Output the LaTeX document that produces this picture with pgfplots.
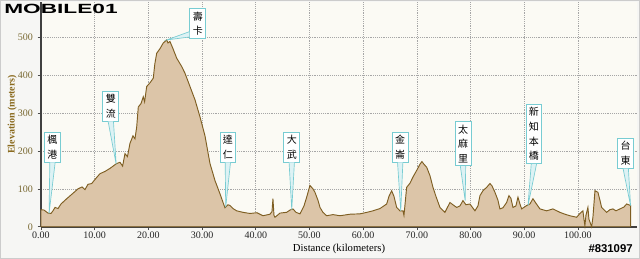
\documentclass[border=0pt]{standalone}
\usepackage{pgfplots}
\pgfplotsset{compat=1.18}
\usepackage{fontspec}
\setmainfont{Liberation Serif}
\newfontfamily\cjk{Noto Sans CJK TC}
\newfontfamily\logo{Liberation Sans}
\definecolor{plotbg}{HTML}{FBFAF4}
\definecolor{outerbg}{HTML}{F6F6F4}
\definecolor{areafill}{HTML}{DCC5A8}
\definecolor{arealine}{HTML}{7E5E22}
\definecolor{callcol}{HTML}{78CCD2}
\definecolor{ylab}{HTML}{8A6A1E}
\definecolor{ytick}{HTML}{7A6A34}
\pgfplotstableread{
x y
0.00 45
0.56 44
0.93 40
1.30 36
1.86 35
2.23 42
2.61 51
3.17 48
3.72 60
4.79 74
5.77 86
6.89 100
7.64 105
8.19 98
8.75 112
9.44 114
10.24 128
10.99 140
11.92 146
12.85 154
14.10 167
14.71 170
15.20 160
15.64 193
16.10 185
16.57 220
17.13 240
17.50 232
17.82 263
18.12 316
18.62 325
19.05 343
19.30 330
19.68 370
20.30 380
20.91 392
21.20 430
21.55 458
22.16 470
22.77 485
23.41 493
23.65 485
24.02 489
24.58 470
25.27 445
26.20 423
26.82 405
27.75 370
28.68 335
29.61 290
30.54 240
31.47 167
32.40 122
33.33 87
34.26 50
34.82 58
35.20 56
35.75 48
36.44 42
37.62 38
38.92 35
40.22 37
41.34 29
42.64 33
43.02 40
43.20 74
43.39 30
43.58 25
44.51 36
45.75 38
46.37 44
46.93 47
47.49 38
48.23 34
48.98 55
49.48 78
50.09 109
50.65 100
51.02 91
51.58 70
51.96 51
52.51 38
53.20 29
54.38 32
55.68 29
57.54 33
59.40 34
60.71 38
61.82 42
63.13 48
64.38 60
64.80 80
65.31 95
65.74 80
66.24 51
66.85 42
67.41 42
67.60 30
68.10 104
68.72 115
69.27 131
70.02 150
70.58 165
70.95 172
71.32 165
71.83 157
72.44 135
73.00 104
73.56 80
74.30 51
75.23 38
76.16 64
76.72 58
77.41 51
78.03 55
78.59 69
79.14 58
79.89 60
80.82 42
81.38 55
81.75 82
82.31 95
83.00 104
83.61 114
83.99 108
84.54 91
85.10 70
85.47 47
86.03 50
86.72 64
87.15 82
87.52 75
87.90 51
88.45 55
88.83 78
89.20 60
89.52 47
90.45 56
91.06 60
91.62 74
92.18 62
92.92 47
94.17 42
95.34 47
96.65 38
97.58 33
98.51 29
99.76 25
100.37 35
100.93 42
101.12 20
101.30 3
101.49 30
101.86 51
102.05 20
102.55 0
102.79 25
103.17 95
103.72 91
104.10 70
104.41 51
105.34 38
105.96 45
106.52 47
107.08 42
107.82 47
108.57 52
109.07 60
109.81 56
}\profile
\newcommand{\callout}[6]{%
  \node[draw=callcol, fill=white, line width=0.6pt, inner sep=2.2pt, align=center,
        font=\cjk\fontsize{7.5}{11}\selectfont] (#1) at (axis cs:#2,#3) {#4};
  \filldraw[draw=callcol, fill=callcol!25, line width=0.5pt]
     ([xshift=-2pt]#1.south) -- (axis cs:#5,#6) -- ([xshift=2pt]#1.south);
}
\begin{document}
\begin{tikzpicture}
\fill[outerbg] (0,0) rectangle (480pt,194.25pt);
\draw[gray!40, line width=0.6pt] (0.3pt,0.3pt) rectangle (479.7pt,193.95pt);
\begin{axis}[
  at={(30.75pt,24.2pt)}, anchor=origin,
  scale only axis, width=447pt, height=168.5pt,
  xmin=0, xmax=111, ymin=0, ymax=593,
  axis x line=bottom, axis y line=left,
  axis line style={-, draw=black!75, line width=0.8pt},
  x axis line style={line width=1.4pt},
  axis background/.style={fill=plotbg},
  xtick={0,10,...,100}, ytick={0,100,...,500},
  tick align=outside, major tick length=2.5pt,
  tick style={black!70, line width=0.5pt},
  grid=major, grid style={densely dotted, black!35, line width=0.5pt},
  /pgf/number format/assume math mode=true,
  xticklabel style={font=\fontsize{7.5}{9}\selectfont, text=black!85, yshift=2pt,
     /pgf/number format/.cd, fixed, fixed zerofill, precision=2},
  yticklabel style={font=\fontsize{7.5}{9}\selectfont, text=ytick,
     /pgf/number format/.cd, fixed, precision=0},
  xlabel={Distance (kilometers)},
  ylabel={\textbf{Elevation (meters)}},
  xlabel style={font=\fontsize{8}{10}\selectfont, at={(axis description cs:0.5,0)}, anchor=center, yshift=-16.5pt},
  ylabel style={font=\fontsize{7.5}{9}\selectfont, text=ylab, yshift=-6pt},
  clip=false,
]
\addplot[draw=arealine, fill=areafill, line width=0.7pt] table[x=x,y=y] {\profile} \closedcycle;
\callout{a}{2.14}{210}{楓\\港}{1.5}{35}
\callout{b}{13.0}{318}{雙\\流}{14.0}{165}
\callout{d}{34.8}{210}{達\\仁}{34.4}{52}
\callout{e}{46.7}{210}{大\\武}{46.7}{45}
\callout{f}{66.9}{210}{金\\崙}{67.0}{42}
\callout{g}{78.6}{219}{太\\麻\\里}{79.0}{69}
\callout{h}{91.8}{245}{新\\知\\本\\橋}{90.7}{56}
\callout{i}{108.9}{194}{台\\東}{109.8}{56}
\node[draw=callcol, fill=white, line width=0.6pt, inner sep=2.2pt, align=center,
      font=\cjk\fontsize{7.5}{11}\selectfont] (c) at (axis cs:29.2,536) {壽\\卡};
\filldraw[draw=callcol, fill=callcol!25, line width=0.5pt]
  ([yshift=-6pt]c.west) -- (axis cs:23.4,493) -- ([yshift=-10pt]c.west);
\end{axis}
\node[anchor=north west, font=\logo\bfseries\fontsize{10}{10}\selectfont, text=black, inner sep=0pt] at (3pt,191pt) {\scalebox{1.7}[1]{MOBILE01}};
\node[anchor=south east, font=\logo\bfseries\fontsize{8.5}{9}\selectfont, text=black] at (478pt,1pt) {\#831097};
\useasboundingbox (0,0) rectangle (480pt,194.25pt);
\end{tikzpicture}
\end{document}
